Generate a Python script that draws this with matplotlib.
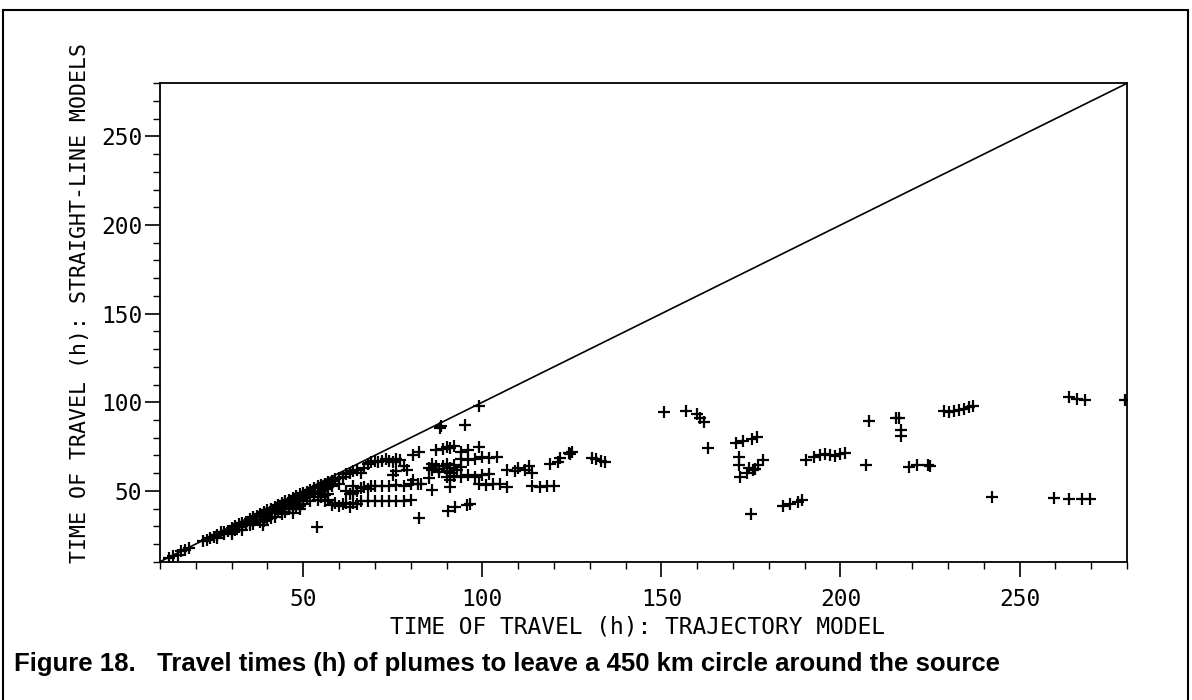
import matplotlib
matplotlib.use("Agg")
import matplotlib.pyplot as plt
from matplotlib.patches import Rectangle

# travel times (h): trajectory model (x) vs straight-line models (y)
# dense band just under the 1:1 line
band_x = [12.5, 13.5, 15, 16, 17, 18, 22, 23, 24, 25, 26, 27, 28, 29, 30, 31, 32, 33, 34, 35,
          36, 37, 38, 39, 40, 41, 42, 43, 44, 45, 46, 47, 48, 49, 50, 51, 52, 53, 54, 55,
          56, 57, 58, 59, 60, 61, 62, 63, 64, 65,
          26, 28, 30, 31, 32, 33, 34, 35, 36, 37, 38, 39, 40, 41, 42, 43, 44, 45, 46, 47,
          48, 49, 50, 51, 52, 53, 54, 55, 56, 57, 58, 60,
          30, 33, 35, 36, 38, 39, 40, 41, 42, 44, 45, 46, 47, 48, 49, 50, 52, 54, 55, 56, 57,
          38.8, 47, 49, 53.8]
band_y = [12, 13, 14, 16, 16.5, 17.5, 21.5, 22, 23.5, 24, 25, 26.5, 27, 27.5, 29, 30, 31, 32, 32.5, 34,
          35, 36, 37, 38, 39, 40, 41, 42, 43, 44, 45, 46, 47, 48, 49, 49.5, 50.5, 51.5, 52.5, 53.5,
          54, 55, 55.5, 56.5, 57.5, 58, 59.5, 60, 61, 62,
          23.5, 25.5, 27, 28, 29.5, 30, 31, 32, 33, 33.5, 35, 35.5, 36.5, 37.5, 38.5, 39, 40.5, 41, 42, 43,
          44, 45, 46, 46.5, 47, 48, 49, 50, 51, 52, 52.5, 54,
          25.5, 28, 30.5, 31.5, 32.5, 33, 34, 34.5, 35.5, 37, 38, 39.5, 40, 41, 41.5, 42.5, 44, 45, 46.5, 47.5, 48,
          30.7, 37.5, 40, 29.4]

# branches leaving the band (about 55 - 82 h)
branch_x = [56, 57, 58, 59, 60, 61, 62, 63, 64, 65, 66, 68, 70, 72, 74, 76, 78, 80,
            62, 63, 64, 65, 66, 67, 68, 69, 70, 72, 74, 76, 78, 80, 82, 64,
            66, 67, 68, 69, 70, 71, 72, 73, 74, 75, 76, 77, 78, 79, 75, 76]
branch_y = [44, 45, 42, 43, 41.5, 42.5, 43, 41, 43, 42.5, 44, 44, 44.5, 44, 44, 44.5, 44.5, 45,
            50, 48, 49, 50, 51.5, 52, 51, 52.5, 53, 52.5, 53, 53.5, 53, 54, 54, 53,
            60, 63, 65, 66, 67, 66.5, 67, 68, 67, 66, 68, 67.5, 64, 62, 59, 61]

# cluster around 80 - 125 h
mid_x = [99.1, 88.2, 88.5, 95.2, 82.2, 90.5, 92.4, 95.7, 96.5,
         87, 89, 90, 91, 92, 94, 96, 99,
         85, 86, 87, 88, 89, 90, 91, 92, 93, 94, 88, 90, 86,
         90, 92, 94, 96, 98, 100, 102,
         94, 96, 98, 100, 102, 104,
         99, 101, 103, 105, 107,
         107, 109, 110, 112, 114, 113,
         114, 116, 118, 120, 119, 121, 124.3, 125,
         91, 83, 86, 80.7, 82.2, 91, 91, 85, 80.7]
mid_y = [97.9, 85.6, 86.5, 87.1, 34.5, 38.8, 40.7, 42, 42.5,
         73, 73.5, 75, 74, 75.5, 72, 73, 74.5,
         63, 62, 64, 62.5, 64, 65, 63, 64.5, 62, 63.5, 60.5, 61, 65,
         58, 58.5, 58, 59, 58, 59, 59.5,
         68, 67.5, 68, 69, 68.5, 69,
         54, 53.5, 54, 54, 52,
         62, 61, 63, 62, 60, 64,
         53, 52, 52.5, 53, 65, 66.5, 71.2, 72,
         52.3, 54, 50.5, 70, 72, 56, 60, 57, 56]

# long travel times (over 120 h)
far_x = [121.7, 124.5, 130.6, 131.8, 133, 134.3,
         150.8, 156.8, 159.9, 160.8, 161.8, 163,
         170.8, 172.9, 175.2, 176.6,
         171.8, 171.8, 172, 173.9, 175.7, 177.1, 178.5, 174.5, 176,
         175, 183.9, 186, 188, 189.2,
         190.4, 192.5, 194.4, 195.8, 197.2, 198.6, 200, 201.4,
         208.1, 207, 215.6, 216.3, 217, 217, 219, 221.3, 224.3, 225,
         228.9, 230.3, 231.7, 233.1, 234.5, 235.9, 236.9,
         242.3, 259.6, 263.7, 267.5, 269.8,
         263.7, 266, 268.4, 279.5]
far_y = [68.3, 70.8, 68.5, 68, 67, 66.2,
         94.3, 95, 93.3, 90.9, 89, 74,
         76.8, 78.1, 79.4, 80.2,
         69.3, 64.6, 58, 59.9, 61.7, 64.6, 67.4, 63, 62.5,
         36.9, 41.4, 42.6, 43.9, 44.8,
         67.4, 68.9, 70.2, 70.8, 70.2, 69.6, 70.8, 71.5,
         89.4, 64.6, 91.3, 91, 84.3, 80.9, 63.3, 64.6, 64.6, 64,
         95, 94.4, 95, 95.6, 96.3, 97.4, 97.8,
         46.7, 45.8, 45.4, 45.4, 45.2,
         102.8, 101.6, 101.3, 101.5]

axis_min, axis_max = 10, 280
major_ticks = [50, 100, 150, 200, 250]
minor_ticks = list(range(10, 290, 10))

mono = "DejaVu Sans Mono"

fig = plt.figure(figsize=(11.92, 7.0), dpi=100)
ax = fig.add_axes([160 / 1192, 1 - 561.7 / 700, 967 / 1192, (561.7 - 83.3) / 700])

ax.plot([axis_min, axis_max], [axis_min, axis_max], color="black", lw=1.2)
for xs, ys in [(band_x, band_y), (branch_x, branch_y), (mid_x, mid_y), (far_x, far_y)]:
    ax.plot(xs, ys, linestyle="none", marker="+", ms=8, mew=1.6, color="black")

ax.set_xlim(axis_min, axis_max)
ax.set_ylim(axis_min, axis_max)
ax.set_xticks(major_ticks)
ax.set_yticks(major_ticks)
ax.set_xticks(minor_ticks, minor=True)
ax.set_yticks(minor_ticks, minor=True)
ax.tick_params(which="major", length=10.8, width=1.2, labelsize=16.5, color="black")
ax.tick_params(which="minor", length=5, width=1.0)
ax.tick_params(axis="x", which="major", pad=8)
ax.tick_params(axis="y", which="major", pad=2)
for lab in ax.get_xticklabels() + ax.get_yticklabels():
    lab.set_family(mono)
for sp in ax.spines.values():
    sp.set_linewidth(1.3)

fig.text(637 / 1192, 1 - 627 / 700, "TIME OF TRAVEL (h): TRAJECTORY MODEL",
         family=mono, fontsize=16.5, ha="center", va="center")
fig.text(80 / 1192, 1 - 303 / 700, "TIME OF TRAVEL (h): STRAIGHT-LINE MODELS",
         family=mono, fontsize=15.5, ha="center", va="center", rotation=90)

fig.text(14 / 1192, 1 - 664 / 700,
         "Figure 18.   Travel times (h) of plumes to leave a 450 km circle around the source",
         family="Liberation Sans", fontweight="bold", fontsize=18.5, ha="left", va="center")

fig.add_artist(Rectangle((3 / 1192, -0.05), 1185 / 1192, 1.05 - 10 / 700,
                         transform=fig.transFigure, fill=False, lw=1.5, edgecolor="black"))

fig.savefig("out.png", dpi=100)
